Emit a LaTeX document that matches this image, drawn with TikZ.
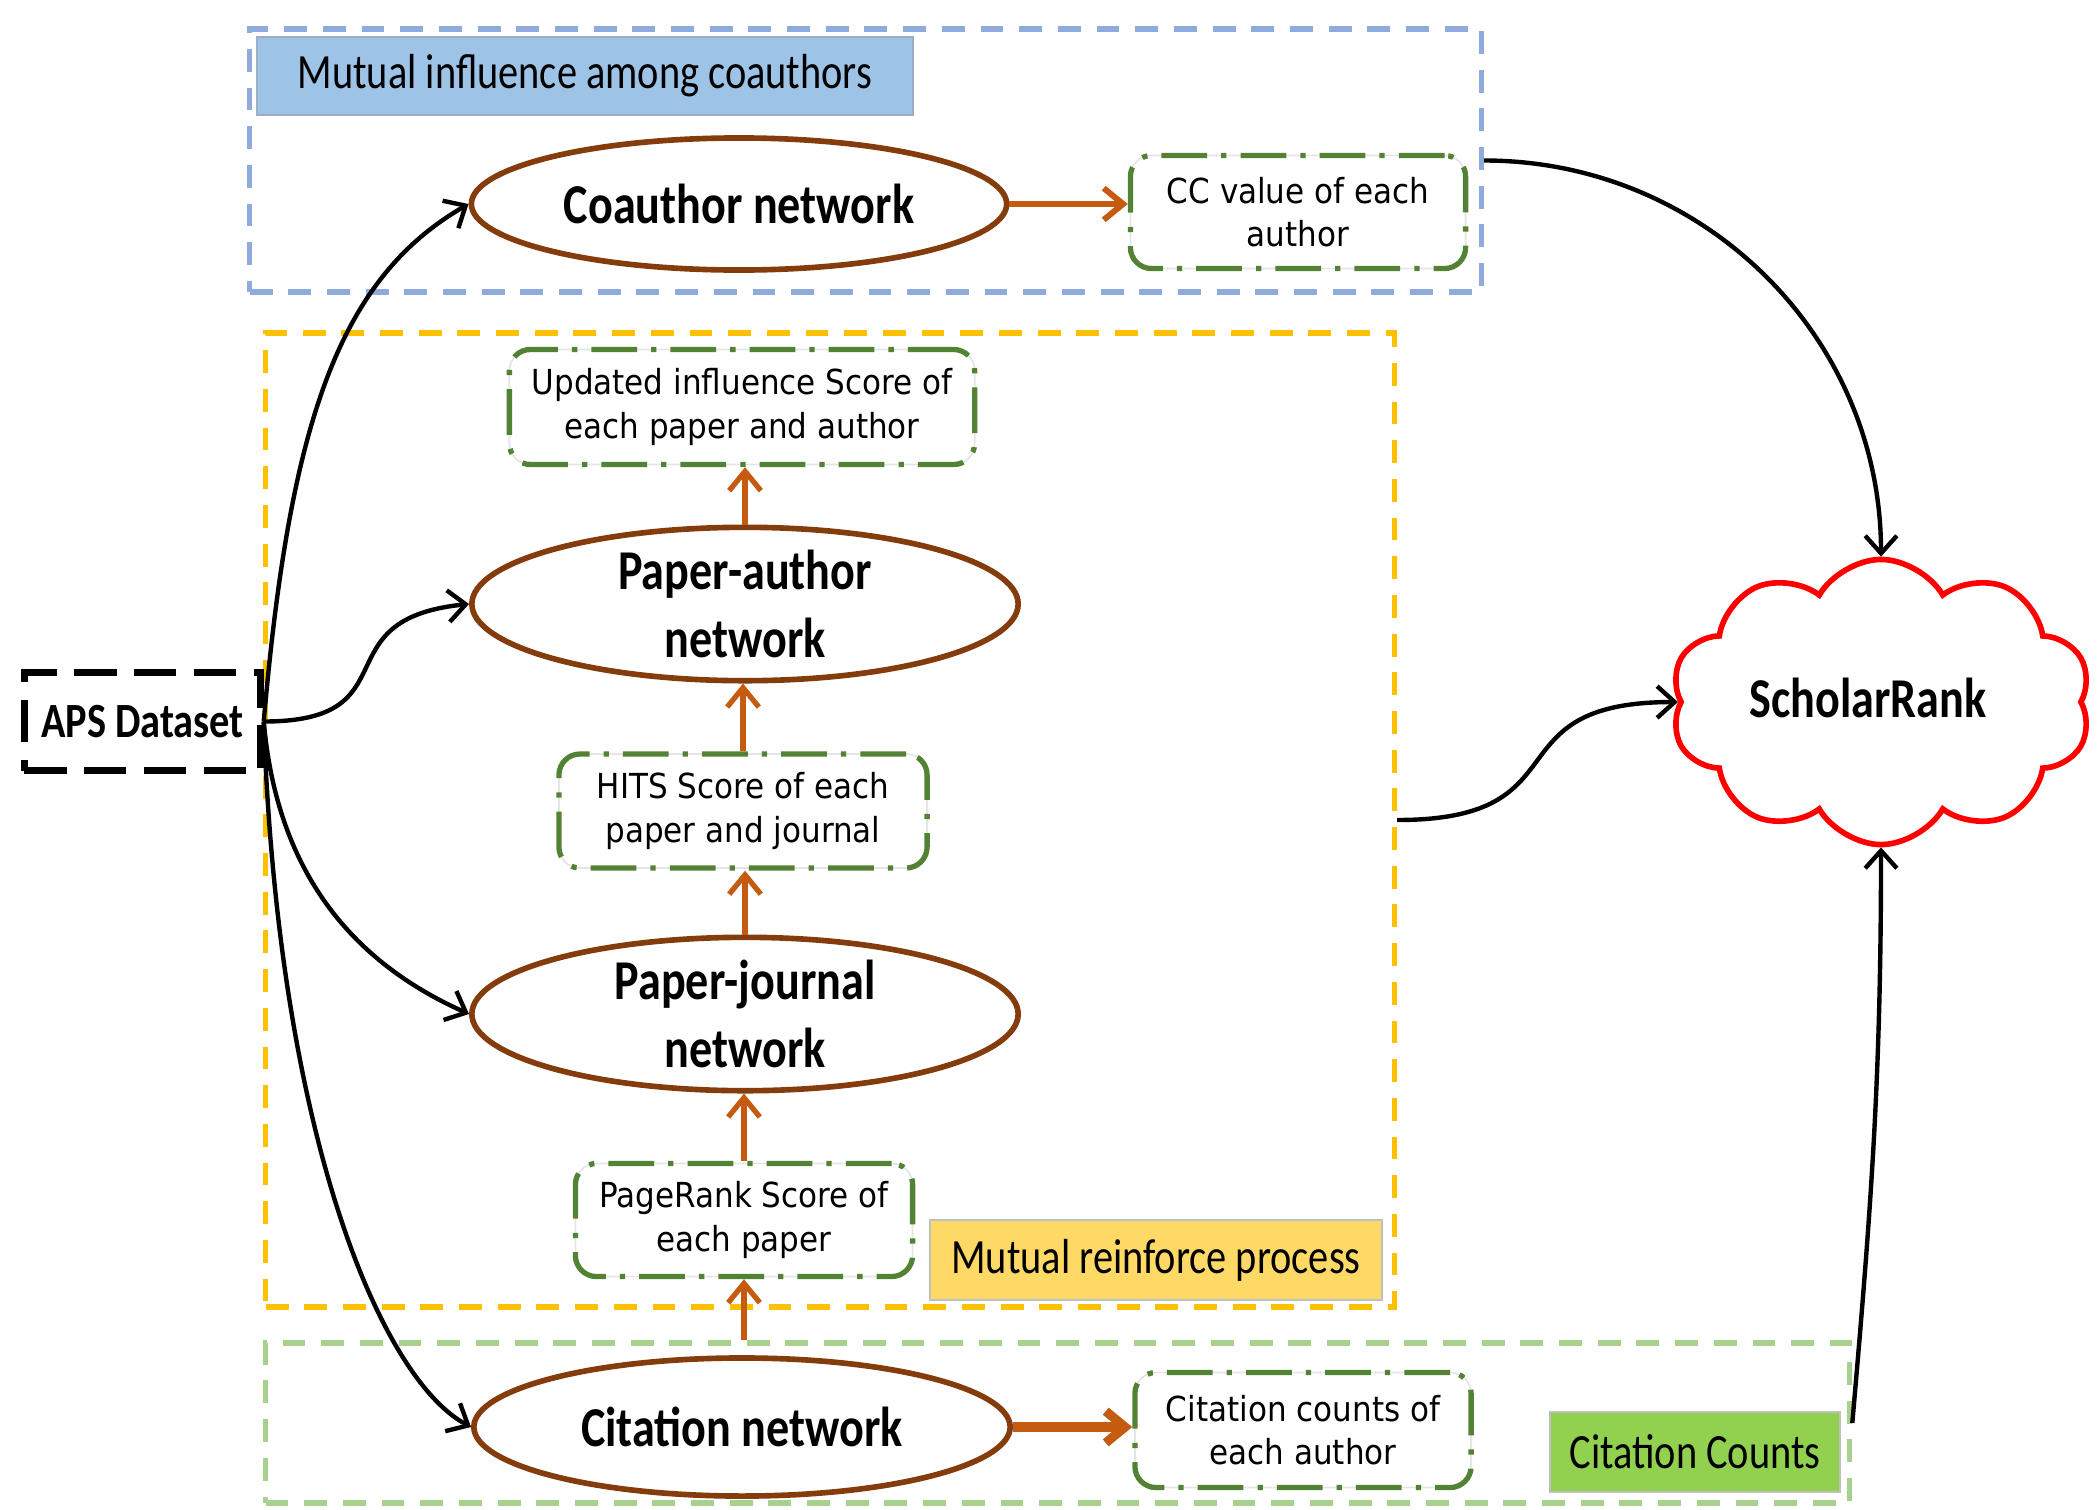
\documentclass[tikz,border=0pt]{standalone}
\usepackage{fontspec}
\setmainfont{Carlito}
\newfontfamily\lab[FakeStretch=0.82]{Carlito}
\newfontfamily\bx[FakeStretch=0.9]{DejaVu Sans}
\usetikzlibrary{shapes.geometric,shapes.symbols,arrows.meta}
\definecolor{bluedash}{HTML}{8FAADC}
\definecolor{bluefill}{HTML}{9DC3E6}
\definecolor{orangedash}{HTML}{FFC000}
\definecolor{greendash}{HTML}{A9D18E}
\definecolor{dgreen}{HTML}{548235}
\definecolor{brownc}{HTML}{843C0C}
\definecolor{orangec}{HTML}{C55A11}
\definecolor{yellowfill}{HTML}{FFD966}
\definecolor{greenfill}{HTML}{92D050}
\begin{document}
\begin{tikzpicture}[x=0.01cm,y=0.01cm,
  region/.style={rectangle, draw, line width=1.6pt, dash pattern=on 6.5pt off 4.5pt, inner sep=0pt},
  netw/.style={ellipse, draw=brownc, line width=1.6pt, inner sep=0pt, align=center, fill=white,
    font=\lab\bfseries\fontsize{16}{19.5}\selectfont},
  scorebox/.style={rectangle, rounded corners=6pt, draw=dgreen, line width=1.5pt,
    dash pattern=on 13pt off 4pt on 1.5pt off 4pt,
    preaction={draw=black!10, line width=0.5pt, solid},
    align=center, inner sep=0pt, font=\bx\fontsize{9.8}{12.3}\selectfont},
  tag/.style={rectangle, draw=black!25, line width=0.6pt, inner sep=0pt,
    font=\lab\fontsize{14}{17}\selectfont},
  oarr/.style={draw=orangec, line width=1.5pt, -{Straight Barb[length=5.5pt,width=9pt]}},
  barr/.style={draw=black, line width=1.25pt, -{Straight Barb[length=5pt,width=9pt]}}
]
\useasboundingbox (0,0) rectangle (2098,-1509);

% region boxes
\node[region, draw=bluedash, minimum width=12.31cm, minimum height=2.63cm] (bbox) at (865.5,-160.5) {};
\node[region, draw=orangedash, minimum width=11.28cm, minimum height=9.74cm] (obox) at (830,-820) {};
\node[region, draw=greendash, minimum width=15.83cm, minimum height=1.60cm] (gbox) at (1057.5,-1423) {};

% labels
\node[tag, fill=bluefill, draw=bluedash!80!black!70, minimum width=6.56cm, minimum height=0.78cm] (lblue) at (585,-76) {Mutual influence among coauthors};
\node[tag, fill=yellowfill, minimum width=4.52cm, minimum height=0.80cm] (lyellow) at (1156,-1260) {Mutual reinforce process};
\node[tag, fill=greenfill, minimum width=2.90cm, minimum height=0.80cm] (lgreen) at (1695,-1452) {Citation Counts};

% APS dataset
\node[rectangle, draw=black, line width=1.8pt, dash pattern=on 12pt off 5pt, inner sep=0pt,
  minimum width=2.36cm, minimum height=0.98cm, font=\lab\bfseries\fontsize{14}{17}\selectfont] (aps) at (142.5,-721.5) {APS Dataset};

% networks
\node[netw, minimum width=5.35cm, minimum height=1.32cm] (co) at (739,-204) {Coauthor network};
\node[netw, minimum width=5.46cm, minimum height=1.34cm] (pa) at (745,-604) {Paper-author\\network};
\node[netw, minimum width=5.46cm, minimum height=1.34cm] (pj) at (745,-1014) {Paper-journal\\network};
\node[netw, minimum width=5.36cm, minimum height=1.38cm] (cit) at (742,-1427) {Citation network};

% score boxes
\node[scorebox, minimum width=4.65cm, minimum height=1.15cm] (upd) at (742,-407) {Updated influence Score of\\each paper and author};
\node[scorebox, minimum width=3.68cm, minimum height=1.14cm] (hits) at (743,-811) {HITS Score of each\\paper and journal};
\node[scorebox, minimum width=3.37cm, minimum height=1.13cm] (pr) at (744,-1220) {PageRank Score of\\each paper};
\node[scorebox, minimum width=3.35cm, minimum height=1.13cm] (cc) at (1298,-212) {CC value of each\\author};
\node[scorebox, minimum width=3.36cm, minimum height=1.15cm] (cc2) at (1303,-1430) {Citation counts of\\each author};

% ScholarRank cloud
\node[cloud, cloud puffs=10, cloud puff arc=120, cloud ignores aspect, draw=red, line width=1.6pt,
  minimum width=4.2cm, minimum height=2.85cm, inner sep=0pt] (sr) at (1881,-702) {};
\node[font=\lab\bfseries\fontsize{16}{19.5}\selectfont, inner sep=0pt] (srt) at (1868,-698) {ScholarRank};

% orange connectors
\draw[oarr, line width=1.7pt] (co.east) -- (co.east -| cc.west);
\draw[oarr] (pa.north) -- (pa.north |- upd.south);
\draw[oarr] (hits.north) -- (hits.north |- pa.south);
\draw[oarr] (pj.north) -- (pj.north |- hits.south);
\draw[oarr] (pr.north) -- (pr.north |- pj.south);
\draw[oarr] (pr.south |- gbox.north) -- (pr.south);
\draw[oarr, line width=2.6pt] (cit.east) -- (cit.east -| cc2.west);

% black connectors
\draw[barr] (aps.east) to[out=85,in=210,out distance=3cm,in distance=1.5cm] (co.west);
\draw[barr] (aps.east) .. controls +(150,0) and +(-150,-15) .. (pa.west);
\draw[barr] (aps.east) to[out=-85,in=156] (pj.west);
\draw[barr] (aps.east) to[out=-88,in=152,out distance=4.2cm,in distance=1cm] (cit.west);
\draw[barr] (bbox.east) to[out=0,in=90] (sr.north);
\draw[barr] (obox.east) .. controls +(190,0) and +(-190,0) .. (sr.west);
\draw[barr] (gbox.east) to[out=85,in=-90] (sr.south);
\end{tikzpicture}
\end{document}
